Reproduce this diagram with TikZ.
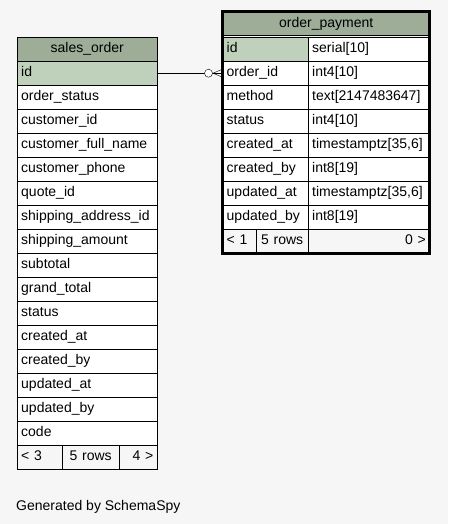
\documentclass[tikz,border=0pt]{standalone}
\usepackage{fontspec}
\setmainfont{Liberation Sans}
\usetikzlibrary{calc}
\definecolor{pagebg}{HTML}{F6F6F6}
\definecolor{headfill}{HTML}{9DAD98}
\definecolor{keyfill}{HTML}{BFD1BA}
\tikzset{
    cell/.style = {draw, fill = white, anchor = north west, inner xsep = 4pt, inner ysep = 0pt,
        minimum height = 24pt, text height = 10pt, text depth = 3pt, align = left,
        font = \fontsize{14}{16}\selectfont},
    headcell/.style = {cell, fill = headfill, align = center},
    keycell/.style = {cell, fill = keyfill},
    footcell/.style = {cell, fill = pagebg},
    socol/.style = {text width = 132pt},
    opname/.style = {text width = 77.5pt},
    optype/.style = {text width = 113.5pt}
}
\begin{document}
\begin{tikzpicture}[x = 1pt, y = -1pt]
    \fill[pagebg] (0,0) rectangle (448,524);
    \useasboundingbox (0,0) rectangle (448,524);
    % sales_order
    \begin{scope}
        \node[headcell, socol] (so-head) at (17,37) {sales\_order};
        \node[keycell, socol] (so-id) at (17,61) {id};
        \node[cell, socol] (so-orderstatus) at (17,85) {order\_status};
        \node[cell, socol] (so-customerid) at (17,109) {customer\_id};
        \node[cell, socol] (so-fullname) at (17,133) {customer\_full\_name};
        \node[cell, socol] (so-phone) at (17,157) {customer\_phone};
        \node[cell, socol] (so-quoteid) at (17,181) {quote\_id};
        \node[cell, socol] (so-addressid) at (17,205) {shipping\_address\_id};
        \node[cell, socol] (so-shipamount) at (17,229) {shipping\_amount};
        \node[cell, socol] (so-subtotal) at (17,253) {subtotal};
        \node[cell, socol] (so-grandtotal) at (17,277) {grand\_total};
        \node[cell, socol] (so-status) at (17,301) {status};
        \node[cell, socol] (so-createdat) at (17,325) {created\_at};
        \node[cell, socol] (so-createdby) at (17,349) {created\_by};
        \node[cell, socol] (so-updatedat) at (17,373) {updated\_at};
        \node[cell, socol] (so-updatedby) at (17,397) {updated\_by};
        \node[cell, socol] (so-code) at (17,421) {code};
        \node[footcell, text width = 37pt] (so-prev) at (17,445) {< 3};
        \node[footcell, text width = 49pt, align = center] (so-rows) at (62,445) {5 rows};
        \node[footcell, text width = 30pt, align = right] (so-next) at (119,445) {4 >};
    \end{scope}
    % order_payment
    \begin{scope}
        \node[headcell, text width = 199pt] (op-head) at (222.5,11.5) {order\_payment};
        \node[keycell, opname, minimum height = 24pt] (op-id-n) at (222.5,37) {id};
        \node[cell, optype] (op-id-t) at (308,37) {serial[10]};
        \node[cell, opname] (op-orderid-n) at (222.5,61) {order\_id};
        \node[cell, optype] (op-orderid-t) at (308,61) {int4[10]};
        \node[cell, opname] (op-method-n) at (222.5,85) {method};
        \node[cell, optype] (op-method-t) at (308,85) {text[2147483647]};
        \node[cell, opname] (op-status-n) at (222.5,109) {status};
        \node[cell, optype] (op-status-t) at (308,109) {int4[10]};
        \node[cell, opname] (op-createdat-n) at (222.5,133) {created\_at};
        \node[cell, optype] (op-createdat-t) at (308,133) {timestamptz[35,6]};
        \node[cell, opname] (op-createdby-n) at (222.5,157) {created\_by};
        \node[cell, optype] (op-createdby-t) at (308,157) {int8[19]};
        \node[cell, opname] (op-updatedat-n) at (222.5,181) {updated\_at};
        \node[cell, optype] (op-updatedat-t) at (308,181) {timestamptz[35,6]};
        \node[cell, opname] (op-updatedby-n) at (222.5,205) {updated\_by};
        \node[cell, optype] (op-updatedby-t) at (308,205) {int8[19]};
        \node[footcell, text width = 25.5pt, minimum height = 24.5pt] (op-prev) at (222.5,229) {< 1};
        \node[footcell, text width = 44pt, minimum height = 24.5pt, align = center] (op-rows) at (256,229) {5 rows};
        \node[footcell, optype, minimum height = 24.5pt, align = right] (op-next) at (308,229) {0 >};
        \draw[line width = 3pt] (op-head.north west) rectangle (op-next.south east);
    \end{scope}
    % relation
    \draw (so-id.east) -- (op-orderid-n.west);
    \draw[fill = white] ($(op-orderid-n.west) + (-14,0)$) circle (4pt);
    \draw ($(op-orderid-n.west) + (-9.5,0)$) -- ($(op-orderid-n.west) + (0,-4)$);
    \draw ($(op-orderid-n.west) + (-9.5,0)$) -- ($(op-orderid-n.west) + (0,4)$);
    \node[anchor = base west, inner sep = 0pt, font = \fontsize{14}{16}\selectfont] (credit) at (16,510) {Generated by SchemaSpy};
\end{tikzpicture}
\end{document}
